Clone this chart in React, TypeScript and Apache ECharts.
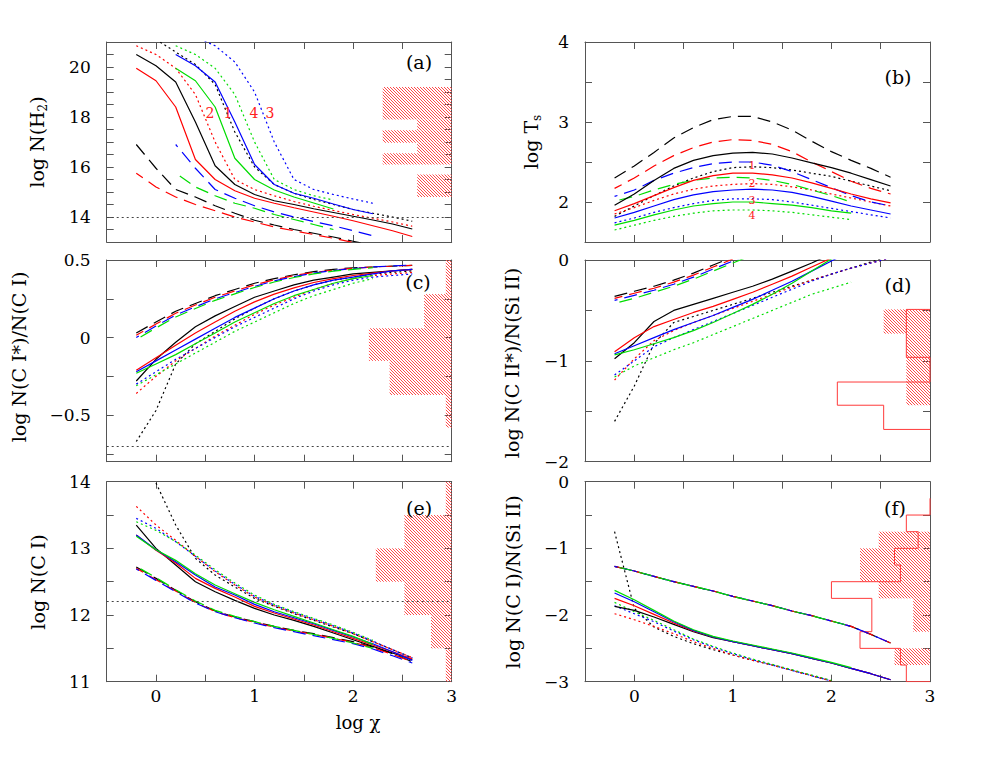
import React, { useEffect, useRef } from "react";
import * as echarts from "echarts";

// ---------- data ----------
const logChi = [-0.2, 0, 0.2, 0.4, 0.6, 0.8, 1.0, 1.2, 1.4, 1.6, 1.8, 2.0, 2.2, 2.4, 2.6];

// (a) log N(H2)
const aSolidBlack = [20.5, 20.05, 19.4, 17.8, 16.05, 15.3, 14.9, 14.65, 14.5, 14.33, 14.18, 14.03, 13.88, 13.72, 13.52];
const aSolidRed = [19.95, 19.45, 18.4, 16.3, 15.5, 15.05, 14.75, 14.55, 14.37, 14.2, 14.03, 13.85, 13.65, 13.45, 13.22];
const aSolidBlue = [null, null, 20.5, 20.05, 19.4, 17.8, 16.1, 15.3, 14.95, 14.75, 14.52, 14.3, 14.13, null, null];
const aSolidGreen = [null, null, 19.95, 19.45, 18.4, 16.35, 15.5, 15.08, 14.8, 14.56, 14.32, null, null, null, null];
const aDashBlack = [16.9, 15.95, 15.1, 14.8, 14.45, 14.15, 13.87, 13.68, 13.5, 13.35, 13.2, 13.03, 12.87, null, null];
const aDashRed = [15.75, 15.2, 14.8, 14.5, 14.25, 14.0, 13.8, 13.6, 13.45, 13.3, 13.15, 12.98, null, null, null];
const aDashBlue = [null, null, 16.9, 15.95, 15.1, 14.75, 14.45, 14.2, 14.0, 13.82, 13.65, 13.45, 13.25, null, null];
const aDashGreen = [null, null, 15.75, 15.2, 14.85, 14.55, 14.35, 14.1, 13.9, 13.7, 13.5, null, null, null, null];
const aDotBlack = [null, 21.1, 20.6, 20.1, 19.3, 17.4, 16.0, 15.3, 14.95, 14.7, 14.5, 14.3, 14.15, 14.0, 13.83];
const aDotRed = [20.85, 20.5, 19.95, 18.9, 17.0, 15.5, 15.1, 14.85, 14.62, 14.43, 14.26, 14.1, 13.95, 13.8, 13.63];
const aDotBlue = [null, null, null, 21.2, 20.85, 20.2, 19.0, 17.0, 15.5, 15.1, 14.9, 14.72, 14.55, null, null];
const aDotGreen = [null, null, 20.85, 20.5, 19.95, 18.9, 17.0, 15.5, 15.1, 14.85, 14.68, null, null, null, null];

// (b) log Ts
const bSolidBlack = [1.96, 2.1, 2.27, 2.42, 2.52, 2.58, 2.61, 2.62, 2.6, 2.55, 2.49, 2.43, 2.36, 2.28, 2.2];
const bSolidRed = [1.89, 1.98, 2.08, 2.18, 2.27, 2.33, 2.36, 2.36, 2.34, 2.3, 2.24, 2.17, 2.1, 2.04, 1.99];
const bSolidBlue = [1.8, 1.87, 1.95, 2.03, 2.09, 2.13, 2.15, 2.16, 2.15, 2.12, 2.07, 2.01, 1.95, 1.9, 1.85];
const bSolidGreen = [1.71, 1.77, 1.84, 1.9, 1.95, 1.98, 2.0, 2.0, 1.98, 1.96, 1.93, 1.89, 1.86, null, null];
const bDashBlack = [2.3, 2.45, 2.62, 2.8, 2.93, 3.03, 3.07, 3.07, 3.0, 2.9, 2.76, 2.63, 2.52, 2.42, 2.31];
const bDashRed = [2.17, 2.3, 2.45, 2.58, 2.68, 2.75, 2.78, 2.77, 2.72, 2.63, 2.5, 2.38, 2.26, 2.17, 2.1];
const bDashBlue = [2.07, 2.15, 2.27, 2.36, 2.43, 2.48, 2.5, 2.5, 2.46, 2.38, 2.28, 2.18, 2.08, 2.0, 1.95];
const bDashGreen = [2.01, 2.07, 2.15, 2.22, 2.27, 2.3, 2.31, 2.3, 2.27, 2.22, 2.15, 2.08, 2.0, null, null];
const bDotBlack = [1.82, 1.95, 2.08, 2.2, 2.3, 2.38, 2.43, 2.44, 2.43, 2.4, 2.36, 2.32, 2.26, 2.2, 2.14];
const bDotRed = [1.85, 1.93, 2.02, 2.1, 2.16, 2.2, 2.22, 2.23, 2.22, 2.19, 2.15, 2.1, 2.05, 2.0, 1.95];
const bDotBlue = [1.74, 1.8, 1.87, 1.93, 1.98, 2.02, 2.04, 2.04, 2.03, 2.0, 1.96, 1.92, 1.88, 1.84, 1.8];
const bDotGreen = [1.65, 1.71, 1.77, 1.82, 1.86, 1.89, 1.9, 1.9, 1.89, 1.87, 1.84, 1.81, 1.78, null, null];

// (c) log N(C I*)/N(C I)
const cSolidBlack = [-0.28, -0.14, -0.03, 0.07, 0.14, 0.2, 0.26, 0.3, 0.34, 0.37, 0.39, 0.41, 0.42, 0.43, 0.44];
const cSolidRed = [-0.21, -0.13, -0.05, 0.03, 0.1, 0.17, 0.23, 0.28, 0.32, 0.355, 0.38, 0.4, 0.415, 0.43, 0.44];
const cSolidBlue = [-0.22, -0.15, -0.08, -0.01, 0.06, 0.13, 0.19, 0.25, 0.3, 0.34, 0.37, 0.39, 0.41, 0.43, 0.44];
const cSolidGreen = [-0.23, -0.17, -0.11, -0.04, 0.03, 0.1, 0.16, 0.22, 0.27, 0.31, 0.35, 0.38, 0.4, null, null];
const cDashBlack = [0.03, 0.1, 0.17, 0.22, 0.27, 0.31, 0.35, 0.38, 0.405, 0.425, 0.44, 0.45, 0.455, 0.46, 0.465];
const cDashRed = [0.015, 0.087, 0.157, 0.21, 0.26, 0.3, 0.34, 0.372, 0.4, 0.42, 0.435, 0.447, 0.455, 0.46, 0.465];
const cDashBlue = [0.0, 0.074, 0.145, 0.198, 0.25, 0.29, 0.33, 0.365, 0.393, 0.415, 0.432, 0.445, 0.455, 0.462, 0.468];
const cDashGreen = [-0.012, 0.062, 0.133, 0.187, 0.24, 0.282, 0.323, 0.358, 0.387, 0.41, 0.428, 0.44, 0.45, null, null];
const cDotBlack = [-0.67, -0.47, -0.17, -0.04, 0.04, 0.12, 0.19, 0.25, 0.3, 0.34, 0.37, 0.39, 0.41, 0.42, 0.43];
const cDotRed = [-0.36, -0.25, -0.15, -0.07, 0.01, 0.08, 0.15, 0.21, 0.26, 0.31, 0.35, 0.38, 0.4, 0.41, 0.42];
const cDotBlue = [-0.3, -0.22, -0.14, -0.07, 0.0, 0.07, 0.13, 0.19, 0.25, 0.3, 0.34, 0.37, 0.39, 0.4, 0.41];
const cDotGreen = [-0.31, -0.24, -0.17, -0.1, -0.03, 0.04, 0.1, 0.16, 0.22, 0.27, 0.31, 0.35, 0.38, null, null];

// (d) log N(C II*)/N(Si II)
const dSolidBlack = [-0.98, -0.82, -0.61, -0.5, -0.44, -0.38, -0.32, -0.26, -0.19, -0.11, -0.03, 0.06];
const dSolidRed = [-0.91, -0.77, -0.66, -0.59, -0.52, -0.46, -0.39, -0.32, -0.24, -0.16, -0.07, 0.02];
const dSolidBlue = [-0.93, -0.85, -0.77, -0.69, -0.62, -0.55, -0.47, -0.39, -0.3, -0.21, -0.11, -0.01, 0.09];
const dSolidGreen = [-0.94, -0.89, -0.83, -0.77, -0.7, -0.62, -0.53, -0.44, -0.34, -0.23, -0.11, 0.01, 0.12];
const dDashBlack = [-0.36, -0.31, -0.26, -0.2, -0.13, -0.05, 0.03];
const dDashRed = [-0.38, -0.33, -0.28, -0.22, -0.15, -0.07, 0.01];
const dDashBlue = [-0.4, -0.35, -0.3, -0.24, -0.17, -0.09, -0.01, 0.07];
const dDashGreen = [-0.43, -0.38, -0.32, -0.26, -0.19, -0.11, -0.03, 0.05];
const dDotBlack = [-1.6, -1.25, -0.83, -0.62, -0.56, -0.5, -0.44, -0.38, -0.32, -0.26, -0.2, -0.14, -0.08, -0.02, 0.04];
const dDotRed = [-1.19, -0.98, -0.8, -0.7, -0.62, -0.55, -0.48, -0.41, -0.34, -0.27, -0.2, -0.14, -0.08, -0.03, 0.02];
const dDotBlue = [-1.14, -1.0, -0.86, -0.77, -0.69, -0.61, -0.53, -0.45, -0.37, -0.29, -0.21, -0.14, -0.08, -0.03, 0.02];
const dDotGreen = [-1.16, -1.05, -0.97, -0.89, -0.82, -0.74, -0.66, -0.58, -0.5, -0.42, -0.34, -0.28, -0.22, null, null];

// (e) log N(C I)
const eSolidBlack = [13.35, 13.0, 12.75, 12.5, 12.35, 12.22, 12.1, 12.0, 11.92, 11.83, 11.73, 11.63, 11.53, 11.43, 11.33];
const eSolidRed = [13.2, 12.97, 12.78, 12.55, 12.4, 12.27, 12.13, 12.03, 11.94, 11.85, 11.75, 11.65, 11.55, 11.45, 11.34];
const eSolidBlue = [13.2, 12.98, 12.8, 12.6, 12.42, 12.3, 12.16, 12.05, 11.96, 11.87, 11.77, 11.67, 11.57, 11.45, 11.32];
const eSolidGreen = [13.18, 12.98, 12.82, 12.62, 12.45, 12.32, 12.19, 12.08, 11.98, 11.88, 11.78, 11.68, 11.56, null, null];
const eDashBlack = [12.72, 12.55, 12.37, 12.2, 12.06, 11.97, 11.9, 11.83, 11.77, 11.72, 11.66, 11.6, 11.52, 11.42, 11.3];
const eDashRed = [12.7, 12.53, 12.36, 12.19, 12.05, 11.96, 11.89, 11.82, 11.76, 11.71, 11.65, 11.59, 11.51, 11.41, 11.3];
const eDashBlue = [12.69, 12.52, 12.35, 12.18, 12.05, 11.96, 11.88, 11.81, 11.75, 11.69, 11.63, 11.57, 11.49, 11.39, 11.28];
const eDashGreen = [12.73, 12.56, 12.38, 12.21, 12.07, 11.98, 11.9, 11.83, 11.77, 11.71, 11.65, 11.58, 11.5, null, null];
const eDotBlack = [null, 13.98, 13.35, 12.85, 12.6, 12.42, 12.25, 12.13, 12.02, 11.92, 11.82, 11.72, 11.6, 11.48, 11.36];
const eDotRed = [13.63, 13.35, 13.12, 12.88, 12.65, 12.45, 12.27, 12.14, 12.03, 11.93, 11.83, 11.72, 11.6, 11.48, 11.36];
const eDotBlue = [13.45, 13.3, 13.1, 12.88, 12.66, 12.46, 12.28, 12.15, 12.04, 11.94, 11.84, 11.73, 11.61, 11.48, 11.35];
const eDotGreen = [13.4, 13.27, 13.1, 12.9, 12.68, 12.48, 12.3, 12.16, 12.05, 11.95, 11.85, 11.74, 11.62, null, null];

// (f) log N(C I)/N(Si II)
const fSolidBlack = [-1.87, -1.93, -2.03, -2.14, -2.25, -2.34, -2.4, -2.46, -2.52, -2.58, -2.65, -2.72, -2.8, -2.88, -2.97];
const fSolidRed = [-1.75, -1.86, -1.99, -2.12, -2.24, -2.33, -2.4, -2.46, -2.52, -2.58, -2.65, -2.72, -2.8, -2.88, -2.97];
const fSolidBlue = [-1.67, -1.8, -1.95, -2.1, -2.23, -2.33, -2.4, -2.46, -2.52, -2.58, -2.65, -2.72, -2.8, -2.88, -2.97];
const fSolidGreen = [-1.63, -1.77, -1.93, -2.09, -2.22, -2.32, -2.39, -2.45, -2.51, -2.57, -2.64, -2.71, -2.79, null, null];
const fDashBlack = [-1.27, -1.34, -1.42, -1.5, -1.57, -1.64, -1.72, -1.79, -1.86, -1.94, -2.01, -2.09, -2.17, -2.29, -2.42];
const fDashRed = [-1.27, -1.34, -1.42, -1.5, -1.57, -1.64, -1.72, -1.79, -1.86, -1.94, -2.01, -2.09, -2.17, -2.29, -2.42];
const fDashBlue = [-1.27, -1.34, -1.42, -1.5, -1.57, -1.64, -1.72, -1.79, -1.86, -1.94, -2.01, -2.09, -2.17, -2.29, -2.42];
const fDashGreen = [-1.27, -1.34, -1.42, -1.5, -1.57, -1.64, -1.72, -1.79, -1.86, -1.94, -2.01, -2.09, -2.17, null, null];
const fDotBlack = [-0.75, -1.9, -2.18, -2.32, -2.43, -2.52, -2.6, -2.68, -2.75, -2.83, -2.91, -2.99];
const fDotRed = [-1.98, -2.07, -2.17, -2.28, -2.4, -2.5, -2.6, -2.68, -2.75, -2.83, -2.91, -2.99];
const fDotBlue = [-1.86, -1.98, -2.1, -2.24, -2.37, -2.48, -2.58, -2.67, -2.75, -2.83, -2.91, -2.99];
const fDotGreen = [-1.81, -1.95, -2.08, -2.22, -2.36, -2.47, -2.57, -2.66, -2.74, -2.82, -2.9, -2.98];

// reference levels (horizontal dotted lines)
const aRef = 14;
const cRef = -0.7;
const eRef = 12.2;

// observed histograms (hatched): left edge, low, high (right edge at axis max 3)
const histRight = 3;
const aHistLeft = [2.3, 2.65, 2.3, 2.65, 2.3, 2.65];
const aHistLow = [17.9, 17.47, 16.97, 16.55, 16.1, 14.8];
const aHistHigh = [19.2, 17.9, 17.47, 16.97, 16.55, 15.7];
const cHistLeft = [2.94, 2.72, 2.16, 2.37, 2.94];
const cHistLow = [0.28, 0.06, -0.15, -0.37, -0.58];
const cHistHigh = [0.5, 0.28, 0.06, -0.15, -0.37];
const dHistLeft = [2.53, 2.76];
const dHistLow = [-0.73, -1.44];
const dHistHigh = [-0.49, -0.73];
const eHistLeft = [2.94, 2.52, 2.23, 2.52, 2.79, 2.94];
const eHistLow = [13.5, 13.0, 12.5, 12.0, 11.5, 11.0];
const eHistHigh = [14.0, 13.5, 13.0, 12.5, 12.0, 11.5];
const fHistLeft = [2.48, 2.29, 2.48, 2.83, 2.64];
const fHistLow = [-1.0, -1.5, -1.75, -2.25, -2.75];
const fHistHigh = [-0.75, -1.0, -1.5, -1.75, -2.5];

// outlined histograms: bin edges (top->down) and left edges
const dOutlineEdges = [-0.49, -0.965, -1.21, -1.44, -1.68];
const dOutlineLeft = [2.76, 3.0, 2.06, 2.53];
const fOutlineEdges = [-0.25, -0.5, -0.75, -1.0, -1.25, -1.5, -1.75, -2.25, -2.5, -2.75, -3.0];
const fOutlineLeft = [3.0, 2.76, 2.88, 2.64, 2.7, 2.0, 2.41, 2.29, 2.7, 2.76];

// axes
const xMin = -0.5;
const xMax = 3;
const xTicks = [0, 0.5, 1, 1.5, 2, 2.5];
const xLabels = [0, 1, 2, 3];
const yRanges = [[13, 21], [1.5, 4], [-0.8, 0.5], [-2, 0], [11, 14], [-3, 0]];
const yTicks = [
  [13.5, 14, 14.5, 15, 15.5, 16, 16.5, 17, 17.5, 18, 18.5, 19, 19.5, 20, 20.5],
  [2, 2.5, 3, 3.5],
  [-0.75, -0.5, -0.25, 0, 0.25],
  [-1.5, -1, -0.5],
  [11.5, 12, 12.5, 13, 13.5],
  [-2.5, -2, -1.5, -1, -0.5],
];
const yLabels = [[14, 16, 18, 20], [2, 3, 4], [-0.5, 0, 0.5], [-2, -1, 0], [11, 12, 13, 14], [-3, -2, -1, 0]];
const panelLetters = ["(a)", "(b)", "(c)", "(d)", "(e)", "(f)"];
const modelTagsA = ["2", "1", "4", "3"];
const modelTagsB = ["1", "2", "3", "4"];

// ---------- styling ----------
const F = "DejaVu Serif";
const AX = "#555555";
const COL = { k: "#000000", r: "#ff0000", b: "#0000ff", g: "#00dd00" };
const HATCH = "#ff4a4a";
const gridPos = [
  { left: 106.7, top: 42, width: 345, height: 200 },
  { left: 585, top: 42, width: 345, height: 200 },
  { left: 106.7, top: 260, width: 345, height: 201.7 },
  { left: 585, top: 260, width: 345, height: 201.7 },
  { left: 106.7, top: 481.7, width: 345, height: 200 },
  { left: 585, top: 481.7, width: 345, height: 200 },
];

const fmt = (v: number) => String(v).replace("-", "\u2212");

function lineS(g: number, ys: (number | null)[], color: string, kind: string, dashOffset = 0) {
  const data: number[][] = [];
  logChi.forEach((x, i) => {
    const y = ys[i];
    if (y !== null && y !== undefined) data.push([x, y]);
  });
  return {
    type: "line",
    xAxisIndex: g,
    yAxisIndex: g,
    data,
    symbol: "none",
    silent: true,
    clip: true,
    z: 3,
    lineStyle: {
      color,
      width: 1.2,
      type: kind === "solid" ? "solid" : kind === "dash" ? [13, 7] : [2, 3],
      dashOffset,
    },
  };
}

function hatchS(g: number, left: number[], low: number[], high: number[]) {
  return {
    type: "custom",
    xAxisIndex: g,
    yAxisIndex: g,
    silent: true,
    z: 1,
    encode: { x: [0, 1], y: [2, 3] },
    data: left.map((l, i) => [l, histRight, low[i], high[i]]),
    renderItem: (params: any, api: any) => {
      const p0 = api.coord([api.value(0), api.value(3)]);
      const p1 = api.coord([api.value(1), api.value(2)]);
      const x0 = Math.min(p0[0], p1[0]);
      const x1 = Math.max(p0[0], p1[0]);
      const y0 = Math.min(p0[1], p1[1]);
      const y1 = Math.max(p0[1], p1[1]);
      const s = 3;
      const children: any[] = [];
      const cMin = Math.ceil((y0 - x1) / s) * s;
      const cMax = y1 - x0;
      for (let c = cMin; c <= cMax; c += s) {
        const xa = Math.max(x0, y0 - c);
        const xb = Math.min(x1, y1 - c);
        if (xb > xa) {
          children.push({
            type: "line",
            shape: { x1: xa, y1: xa + c, x2: xb, y2: xb + c },
            style: { stroke: HATCH, lineWidth: 1 },
          });
        }
      }
      return { type: "group", children };
    },
  };
}

function outlineS(g: number, edges: number[], left: number[]) {
  const pts: number[][] = [[histRight, edges[0]]];
  left.forEach((l, i) => {
    pts.push([l, edges[i]]);
    pts.push([l, edges[i + 1]]);
  });
  pts.push([histRight, edges[edges.length - 1]]);
  return {
    type: "line",
    xAxisIndex: g,
    yAxisIndex: g,
    data: pts,
    symbol: "none",
    silent: true,
    z: 2,
    lineStyle: { color: "#ff3a3a", width: 1 },
  };
}

function refS(g: number, level: number) {
  return {
    type: "line",
    xAxisIndex: g,
    yAxisIndex: g,
    data: [],
    silent: true,
    markLine: {
      silent: true,
      symbol: "none",
      label: { show: false },
      lineStyle: { color: "#444", width: 1, type: [2, 3] },
      data: [{ yAxis: level }],
    },
  };
}

function panelSeries(g: number, sets: (number | null)[][]) {
  // sets order: solid k r b g, dash k r b g, dot k r b g
  const cols = [COL.k, COL.r, COL.b, COL.g];
  const out: any[] = [];
  ["dot", "dash", "solid"].forEach((kind) => {
    const base = kind === "solid" ? 0 : kind === "dash" ? 4 : 8;
    cols.forEach((c, j) => {
      out.push(lineS(g, sets[base + j], c, kind, kind === "dash" ? j * 5 : 0));
    });
  });
  return out;
}

function buildOption() {
  const xAxis: any[] = [];
  const yAxis: any[] = [];
  const grid = gridPos.map((p) => ({ ...p, containLabel: false }));
  const labelStyle = { fontFamily: F, fontSize: 17, color: "#000" };
  for (let k = 0; k < 2; k++) {
    for (let g = 0; g < 6; g++) {
      const primary = k === 0;
      xAxis.push({
        type: "value",
        gridIndex: g,
        min: xMin,
        max: xMax,
        position: primary ? "bottom" : "top",
        axisLine: { show: true, onZero: false, lineStyle: { color: AX, width: 1 } },
        axisTick: { show: true, inside: true, length: 7, customValues: xTicks, lineStyle: { color: AX } },
        axisLabel: { show: primary && g >= 4, customValues: xLabels, margin: 6, formatter: fmt, ...labelStyle },
        splitLine: { show: false },
      });
      yAxis.push({
        type: "value",
        gridIndex: g,
        min: yRanges[g][0],
        max: yRanges[g][1],
        position: primary ? "left" : "right",
        axisLine: { show: true, onZero: false, lineStyle: { color: AX, width: 1 } },
        axisTick: { show: true, inside: true, length: 7, customValues: yTicks[g], lineStyle: { color: AX } },
        axisLabel: { show: primary, customValues: yLabels[g], margin: 16, formatter: fmt, ...labelStyle },
        splitLine: { show: false },
      });
    }
  }

  const series: any[] = [
    hatchS(0, aHistLeft, aHistLow, aHistHigh),
    hatchS(2, cHistLeft, cHistLow, cHistHigh),
    hatchS(3, dHistLeft, dHistLow, dHistHigh),
    hatchS(4, eHistLeft, eHistLow, eHistHigh),
    hatchS(5, fHistLeft, fHistLow, fHistHigh),
    outlineS(3, dOutlineEdges, dOutlineLeft),
    outlineS(5, fOutlineEdges, fOutlineLeft),
    refS(0, aRef),
    refS(2, cRef),
    refS(4, eRef),
    ...panelSeries(0, [aSolidBlack, aSolidRed, aSolidBlue, aSolidGreen, aDashBlack, aDashRed, aDashBlue, aDashGreen, aDotBlack, aDotRed, aDotBlue, aDotGreen]),
    ...panelSeries(1, [bSolidBlack, bSolidRed, bSolidBlue, bSolidGreen, bDashBlack, bDashRed, bDashBlue, bDashGreen, bDotBlack, bDotRed, bDotBlue, bDotGreen]),
    ...panelSeries(2, [cSolidBlack, cSolidRed, cSolidBlue, cSolidGreen, cDashBlack, cDashRed, cDashBlue, cDashGreen, cDotBlack, cDotRed, cDotBlue, cDotGreen]),
    ...panelSeries(3, [dSolidBlack, dSolidRed, dSolidBlue, dSolidGreen, dDashBlack, dDashRed, dDashBlue, dDashGreen, dDotBlack, dDotRed, dDotBlue, dDotGreen]),
    ...panelSeries(4, [eSolidBlack, eSolidRed, eSolidBlue, eSolidGreen, eDashBlack, eDashRed, eDashBlue, eDashGreen, eDotBlack, eDotRed, eDotBlue, eDotGreen]),
    ...panelSeries(5, [fSolidBlack, fSolidRed, fSolidBlue, fSolidGreen, fDashBlack, fDashRed, fDashBlue, fDashGreen, fDotBlack, fDotRed, fDotBlue, fDotGreen]),
  ];

  const nameStyle = (text: string, rich?: any) => ({
    text,
    fill: "#000",
    fontFamily: F,
    fontSize: 19,
    align: "center",
    verticalAlign: "middle",
    ...(rich ? { rich } : {}),
  });
  const subRich = {
    m: { fontFamily: F, fontSize: 19, fill: "#000", lineHeight: 24, verticalAlign: "middle" },
    s: { fontFamily: F, fontSize: 12, fill: "#000", lineHeight: 24, verticalAlign: "bottom", padding: [10, 0, 0, 0] },
  };
  const yNames = [
    { x: 37, y: 142, style: nameStyle("{m|log N(H}{s|2}{m|)}", subRich) },
    { x: 531, y: 142, style: nameStyle("{m|log T}{s|s}", subRich) },
    { x: 19, y: 357, style: nameStyle("log N(C I*)/N(C I)") },
    { x: 512, y: 363, style: nameStyle("log N(C II*)/N(Si II)") },
    { x: 38, y: 582, style: nameStyle("log N(C I)") },
    { x: 513, y: 582, style: nameStyle("log N(C I)/N(Si II)") },
  ];
  const letterPos = [
    [419, 62],
    [898, 77],
    [418, 282],
    [898, 285],
    [419, 508],
    [895, 508],
  ];
  const tagAx = [210, 228, 254, 270];
  const tagBy = [165, 183, 200, 215];
  const graphic: any[] = [
    ...yNames.map((n) => ({ type: "text", x: n.x, y: n.y, rotation: Math.PI / 2, style: n.style, z: 10 })),
    ...panelLetters.map((t, i) => ({
      type: "text",
      x: letterPos[i][0],
      y: letterPos[i][1],
      style: { text: t, fill: "#000", fontFamily: F, fontSize: 19, align: "center", verticalAlign: "middle" },
      z: 10,
    })),
    ...modelTagsA.map((t, i) => ({
      type: "text",
      x: tagAx[i],
      y: 113,
      style: { text: t, fill: "#ff2020", fontFamily: F, fontSize: 14, align: "center", verticalAlign: "middle" },
      z: 10,
    })),
    ...modelTagsB.map((t, i) => ({
      type: "text",
      x: 752,
      y: tagBy[i],
      style: { text: t, fill: "#ff2020", fontFamily: F, fontSize: 11, align: "center", verticalAlign: "middle" },
      z: 10,
    })),
    {
      type: "text",
      x: 358,
      y: 722,
      style: { text: "log χ", fill: "#000", fontFamily: F, fontSize: 18, align: "center", verticalAlign: "middle" },
      z: 10,
    },
  ];

  return {
    animation: false,
    backgroundColor: "#ffffff",
    grid,
    xAxis,
    yAxis,
    series,
    graphic,
  };
}

export default function App() {
  const ref = useRef<HTMLDivElement>(null);
  useEffect(() => {
    if (!ref.current) return;
    const chart = echarts.init(ref.current, undefined, { renderer: "svg" });
    chart.setOption(buildOption() as any);
    return () => chart.dispose();
  }, []);
  return (
    <div
      ref={ref}
      style={{ position: "fixed", left: 0, top: 0, width: 981, height: 763, background: "#fff" }}
    />
  );
}
